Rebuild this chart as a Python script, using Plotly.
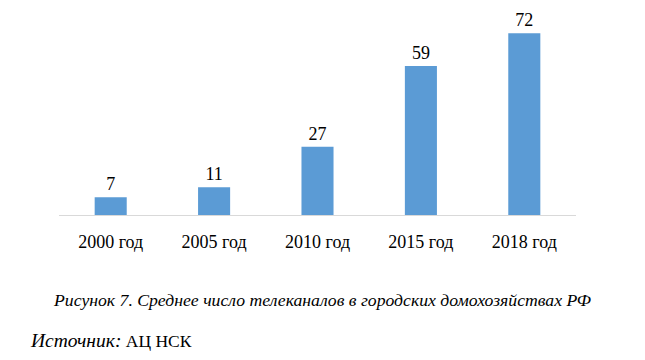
import plotly.graph_objects as go

categories = ["2000 год", "2005 год", "2010 год", "2015 год", "2018 год"]
values = [7, 11, 27, 59, 72]
caption = "Рисунок 7. Среднее число телеканалов в городских домохозяйствах РФ"
source = "<i><span style='font-size:19.5px'>Источник:</span></i> АЦ НСК"

FONT = "Liberation Serif"
OFF = 8  # page body margin

L, R, T, B = 59 - OFF, 576 - OFF, 13 - OFF, 215 - OFF
W = R - L
H = B - T

fig = go.Figure(go.Bar(
    x=categories, y=values,
    marker=dict(color="#5B9BD5", line=dict(width=0)),
    text=[str(v) for v in values], textposition="outside",
    textfont=dict(family=FONT, size=18, color="#000000"),
    cliponaxis=False, width=0.31,
))

fig.update_layout(
    width=645, height=360,
    margin=dict(l=L, r=645 - R, t=T, b=360 - B),
    paper_bgcolor="white", plot_bgcolor="white",
    showlegend=False,
    font=dict(family=FONT),
    xaxis=dict(showline=True, linecolor="#d9d9d9", linewidth=1,
               showgrid=False, ticks="", ticklabelstandoff=10,
               tickfont=dict(family=FONT, size=18, color="#000000")),
    yaxis=dict(range=[0, 80], visible=False, showgrid=False, zeroline=False),
    annotations=[
        dict(text="<i>" + caption + "</i>", xref="paper", yref="paper",
             x=(322 - OFF - L) / W, y=-(300 - OFF - B) / H, xanchor="center", yanchor="middle",
             showarrow=False, font=dict(family=FONT, size=17.7, color="#000000")),
        dict(text=source, xref="paper", yref="paper",
             x=(28 - OFF - L) / W, y=-(340 - OFF - B) / H, xanchor="left", yanchor="middle",
             showarrow=False, font=dict(family=FONT, size=17.5, color="#000000")),
    ],
)

fig.write_html("out.html")
